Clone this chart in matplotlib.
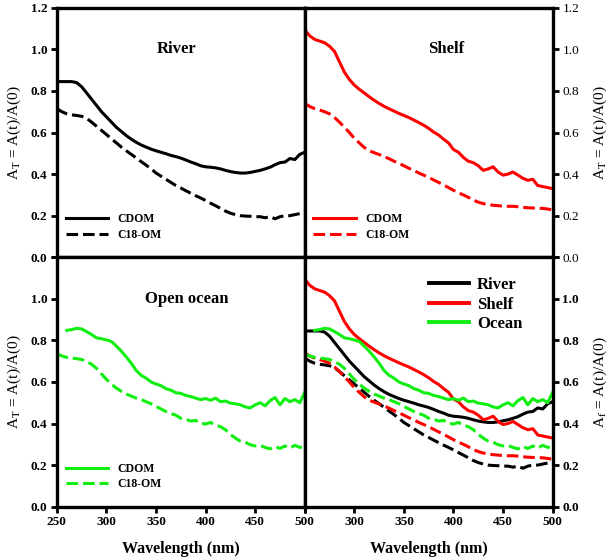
import matplotlib
matplotlib.use('Agg')
import matplotlib.pyplot as plt
import numpy as np

plt.rcParams['font.family'] = ['Liberation Serif', 'DejaVu Serif']
plt.rcParams['mathtext.fontset'] = 'stix'

# wavelengths (nm)
wl = np.arange(250, 501, 5)
wl_ocean_cdom = np.arange(260, 501, 5)

river_cdom = [0.845, 0.845, 0.845, 0.845, 0.84, 0.82, 0.79, 0.76, 0.73, 0.70,
              0.675, 0.65, 0.625, 0.605, 0.585, 0.568, 0.553, 0.54, 0.53, 0.52,
              0.512, 0.505, 0.498, 0.49, 0.484, 0.477, 0.468, 0.458, 0.45, 0.44,
              0.435, 0.433, 0.43, 0.425, 0.418, 0.412, 0.408, 0.405, 0.405, 0.408,
              0.413, 0.418, 0.425, 0.433, 0.445, 0.455, 0.458, 0.475, 0.47, 0.495,
              0.505]
river_c18 = [0.715, 0.70, 0.69, 0.685, 0.682, 0.678, 0.668, 0.65, 0.63, 0.61,
             0.59, 0.57, 0.55, 0.53, 0.512, 0.495, 0.478, 0.46, 0.443, 0.425,
             0.405, 0.39, 0.375, 0.36, 0.345, 0.333, 0.32, 0.308, 0.296, 0.285,
             0.273, 0.26, 0.248, 0.235, 0.222, 0.212, 0.205, 0.2, 0.198, 0.197,
             0.195, 0.195, 0.19, 0.195, 0.185, 0.195, 0.2, 0.2, 0.205, 0.21,
             0.212]
shelf_cdom = [1.094, 1.065, 1.048, 1.04, 1.032, 1.015, 0.99, 0.94, 0.89, 0.855,
              0.828, 0.808, 0.79, 0.772, 0.755, 0.74, 0.726, 0.714, 0.703, 0.692,
              0.682, 0.672, 0.66, 0.648, 0.635, 0.62, 0.602, 0.588, 0.568, 0.55,
              0.518, 0.505, 0.48, 0.462, 0.455, 0.44, 0.418, 0.425, 0.435, 0.41,
              0.395, 0.40, 0.41, 0.395, 0.38, 0.37, 0.375, 0.345, 0.34, 0.335,
              0.33]
shelf_c18 = [0.74, 0.725, 0.715, 0.708, 0.70, 0.69, 0.672, 0.65, 0.625, 0.60,
             0.572, 0.55, 0.528, 0.512, 0.503, 0.494, 0.485, 0.474, 0.462, 0.452,
             0.44, 0.428, 0.418, 0.405, 0.395, 0.384, 0.372, 0.36, 0.348, 0.335,
             0.322, 0.31, 0.30, 0.288, 0.275, 0.265, 0.258, 0.254, 0.25, 0.248,
             0.246, 0.245, 0.245, 0.243, 0.24, 0.238, 0.237, 0.236, 0.235, 0.232,
             0.228]
ocean_cdom = [0.848, 0.852, 0.858, 0.855, 0.842, 0.828, 0.812, 0.808, 0.802, 0.795,
              0.772, 0.748, 0.72, 0.69, 0.655, 0.632, 0.618, 0.60, 0.59, 0.582,
              0.568, 0.56, 0.548, 0.545, 0.535, 0.53, 0.522, 0.515, 0.52, 0.512,
              0.522, 0.505, 0.508, 0.498, 0.495, 0.49, 0.48, 0.475, 0.49, 0.50,
              0.485, 0.51, 0.525, 0.49, 0.52, 0.505, 0.515, 0.50, 0.55]
ocean_c18 = [0.735, 0.725, 0.718, 0.715, 0.712, 0.708, 0.698, 0.685, 0.665, 0.638,
             0.612, 0.59, 0.57, 0.555, 0.542, 0.532, 0.522, 0.515, 0.505, 0.495,
             0.482, 0.47, 0.458, 0.448, 0.44, 0.425, 0.42, 0.412, 0.415, 0.40,
             0.398, 0.405, 0.392, 0.385, 0.37, 0.348, 0.33, 0.315, 0.31, 0.298,
             0.292, 0.295, 0.285, 0.278, 0.29, 0.28, 0.292, 0.282, 0.295, 0.285,
             0.29]

RED = '#ff0000'
GREEN = '#11ee11'
BLACK = '#000000'
LW = 2.2
DASH = (0, (3.8, 1.6))

fig = plt.figure(figsize=(6.12, 5.58), dpi=100)
w, h = 0.405, 0.447
ax_tl = fig.add_axes([0.093, 0.539, w, h])
ax_tr = fig.add_axes([0.498, 0.539, w, h])
ax_bl = fig.add_axes([0.093, 0.092, w, h])
ax_br = fig.add_axes([0.498, 0.092, w, h])

yticks = [0.0, 0.2, 0.4, 0.6, 0.8, 1.0, 1.2]
xticks = [250, 300, 350, 400, 450, 500]

for ax in [ax_tl, ax_tr, ax_bl, ax_br]:
    ax.set_xlim(250, 500)
    ax.set_ylim(0, 1.2)
    ax.set_xticks(xticks)
    ax.set_yticks(yticks)
    for s in ax.spines.values():
        s.set_linewidth(2.4)
    ax.tick_params(direction='out', length=4, width=2, labelsize=9.5, pad=3)
    for lab in ax.get_xticklabels() + ax.get_yticklabels():
        lab.set_fontweight('bold')

# y axis placement
for ax in [ax_tr, ax_br]:
    ax.yaxis.tick_right()
    ax.yaxis.set_label_position('right')
for ax in [ax_tl, ax_tr]:
    ax.set_xticklabels([])
for ax in [ax_bl, ax_br]:
    ax.set_yticklabels(['0.0', '0.2', '0.4', '0.6', '0.8', '1.0', ''], fontweight='bold')
    ax.set_xlabel('Wavelength (nm)', fontsize=11.5, fontweight='bold', labelpad=9)
ax_br.set_xticklabels(['', '300', '350', '400', '450', '500'], fontweight='bold')

ylab = 'A$_{\\rm T}$ = A(t)/A(0)'
ax_tl.set_ylabel(ylab, fontsize=11, labelpad=5)
ax_bl.set_ylabel(ylab, fontsize=11, labelpad=5)
ax_tr.set_ylabel(ylab, fontsize=11, labelpad=9, rotation=90)
ax_br.set_ylabel('A$_{\\rm f}$ = A(t)/A(0)', fontsize=11, labelpad=9, rotation=90)

# single panels
panels = [(ax_tl, 'River', BLACK, wl, river_cdom, wl, river_c18, 371),
          (ax_tr, 'Shelf', RED, wl, shelf_cdom, wl, shelf_c18, 393),
          (ax_bl, 'Open ocean', GREEN, wl_ocean_cdom, ocean_cdom, wl, ocean_c18, 381)]
for ax, title, col, x1, y1, x2, y2, tx in panels:
    ax.plot(x1, y1, color=col, lw=LW, label='CDOM')
    ax.plot(x2, y2, color=col, lw=LW, ls=DASH, label='C18-OM')
    ax.text(tx, 1.0, title, fontsize=12, fontweight='bold', ha='center', va='center')
    ax.legend(loc='lower left', bbox_to_anchor=(0.035, 0.065), frameon=False,
              borderaxespad=0, borderpad=0, handlelength=3.6, handletextpad=0.8,
              labelspacing=0.3, prop={'weight': 'bold', 'size': 8.5})

# combined panel
for col, x1, y1, x2, y2, name in [(BLACK, wl, river_cdom, wl, river_c18, 'River'),
                                   (RED, wl, shelf_cdom, wl, shelf_c18, 'Shelf'),
                                   (GREEN, wl_ocean_cdom, ocean_cdom, wl, ocean_c18, 'Ocean')]:
    ax_br.plot(x1, y1, color=col, lw=LW, label=name)
    ax_br.plot(x2, y2, color=col, lw=LW, ls=DASH)
leg = ax_br.legend(loc='upper left', bbox_to_anchor=(0.5, 0.92), frameon=False,
                   borderaxespad=0, borderpad=0, handlelength=2.4, handletextpad=0.5,
                   labelspacing=0.2, prop={'weight': 'bold', 'size': 12})
for line in leg.get_lines():
    line.set_linewidth(2.8)

plt.savefig('out.png', dpi=100)
